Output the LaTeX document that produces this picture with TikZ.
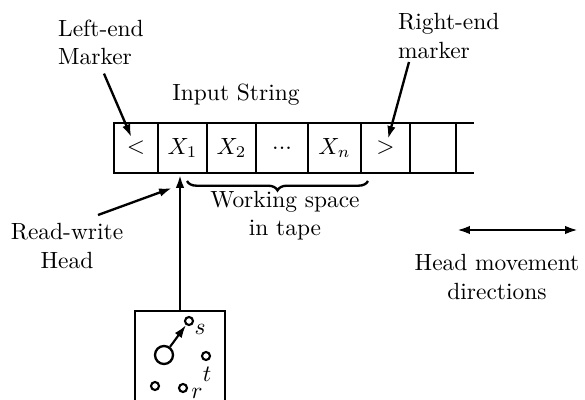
\documentclass[tikz,border=0pt]{standalone}
\usepackage{amsmath}
\usepackage{tikz}
\usetikzlibrary{shapes,arrows,positioning,calc,decorations.pathreplacing}
\usetikzlibrary{arrows.meta}

\begin{document}
\begin{tikzpicture}[x=0.015cm, y=-0.015cm, line width=1pt, >={Latex[length=5.5pt,width=3.6pt]}]

\useasboundingbox (0,0) rectangle (585,400);

% Define block styles
\tikzstyle{cell} = [draw, rectangle, inner sep=0pt, outer sep=0pt, minimum height=0.75cm, minimum width=0.735cm]
\tikzstyle{note} = [inner sep=0pt, align=center]
\tikzstyle{bigstate} = [draw, circle, inner sep=0pt, minimum size=0.27cm]
\tikzstyle{state} = [draw, circle, inner sep=0pt, minimum size=0.12cm, line width=0.9pt]

% Tape cells
\node [cell, minimum width=0.66cm] (lt) at (136,148) {$<$};
\node [cell, right=0pt of lt] (x1) {$X_1$};
\node [cell, right=0pt of x1] (x2) {$X_2$};
\node [cell, right=0pt of x2, minimum width=0.78cm] (dots) {...};
\node [cell, right=0pt of dots, minimum width=0.795cm] (xn) {$X_n$};
\node [cell, right=0pt of xn] (gt) {$>$};
\node [cell, right=0pt of gt, minimum width=0.69cm] (blank) {};
\draw (blank.north east) -- ++(18,0); % open end of tape
\draw (blank.south east) -- ++(18,0);

% Labels
\node [note, align=left, anchor=west] (lem) at (57,42) {Left-end\\Marker};
\node [note, align=left, anchor=west] (rem) at (397,36) {Right-end\\marker};
\node [note] (input) at (236,95) {Input String};
\node [note] (rw) at (67,246) {Read-write\\Head};
\node [note] (work) at (285,216) {Working space\\in tape};
\node [note] (move) at (497,277) {Head movement\\directions};

% Finite control
\node [draw, rectangle, inner sep=0pt, minimum width=1.35cm, minimum height=1.485cm] (ctrl) at (180,360.5) {};
\node [bigstate] (q0) at (164,355) {};
\node [state] (qs) at (189,321) {};
\node [state] (qt) at (206,356) {};
\node [state] (qr1) at (155,386) {};
\node [state] (qr2) at (183,388) {};
\node [note] at (200,329) {$s$};
\node [note] at (207,374) {$t$};
\node [note] at (197,393) {$r$};

% Helper points
\coordinate (remFoot) at (409,62);
\coordinate (rwFoot) at (98,215);
\coordinate (rwTip) at (172,188);
\coordinate (mvL) at (457,230);
\coordinate (mvR) at (578,230);

% Connections
\draw [->, shorten >=5pt] (lem.south) ++(3,8) -- (lt.center); % left-end marker
\draw [->, shorten >=4pt] (remFoot) -- (gt.center); % right-end marker
\draw [->, shorten >=0.8pt] (ctrl.north) -- (ctrl.north |- x1.south); % head
\draw [->] (rwFoot) -- (rwTip);
\draw [->, line width=0.9pt] (q0) -- (qs);
\draw [<->] (mvL) -- (mvR);
\draw [decorate, decoration={brace, mirror, amplitude=4pt}] (187,181) -- (368,181); % working space

\end{tikzpicture}
\end{document}
